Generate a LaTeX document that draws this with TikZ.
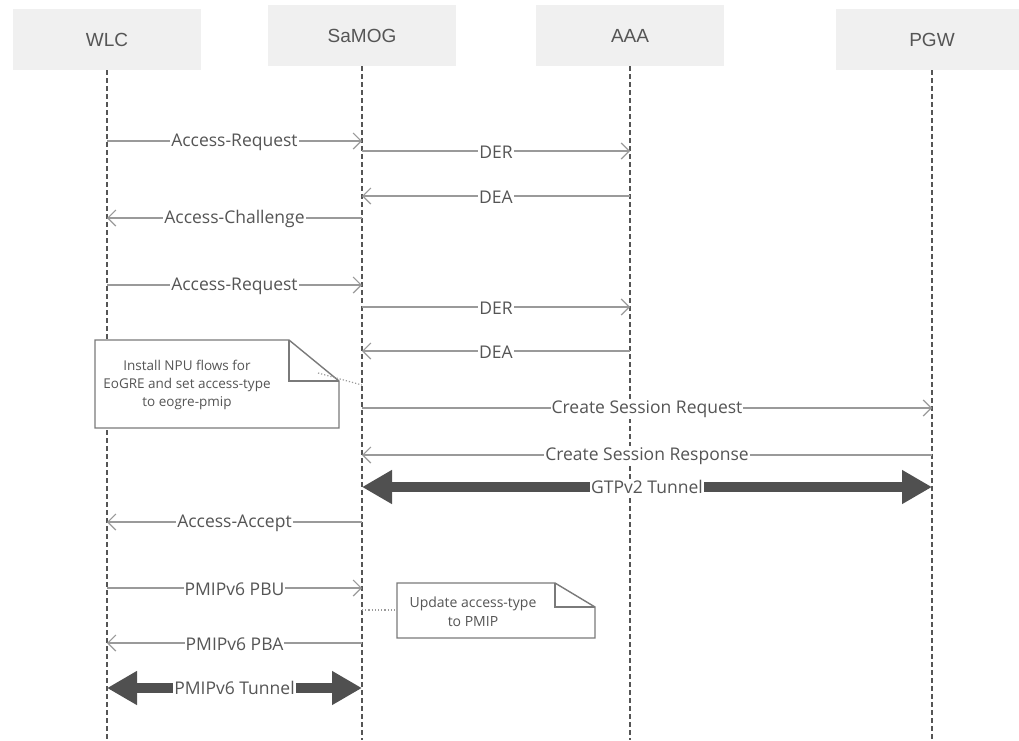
\documentclass[tikz,border=0pt]{standalone}
\usepackage{fontspec}
\setmainfont{Open Sans}
\newfontfamily\headfont{Liberation Sans}
\usetikzlibrary{arrows.meta}
\definecolor{hdrfill}{HTML}{F0F0F0}
\definecolor{txtgray}{HTML}{555555}
\definecolor{linegray}{HTML}{9A9A9A}
\definecolor{lifegray}{HTML}{555555}
\definecolor{tunnelgray}{HTML}{505050}
\definecolor{notegray}{HTML}{7A7A7A}
\tikzset{
  hdr/.style={fill=hdrfill, draw=none, inner sep=0pt, text=txtgray,
    font=\headfont\fontsize{19}{22}\selectfont},
  lifeline/.style={draw=lifegray, line width=1.8pt, dash pattern=on 5pt off 3pt},
  msg/.style={draw=linegray, line width=1.4pt,
    -{Straight Barb[length=8pt,width=16pt,line width=1.2pt]}},
  msglbl/.style={fill=white, inner sep=1pt, text=txtgray, yshift=-1pt,
    font=\fontsize{17.5}{20}\selectfont},
  tunnel/.style={draw=tunnelgray, line width=10pt,
    {Triangle[length=30pt,width=32pt]}-{Triangle[length=30pt,width=32pt]}},
  tunlbl/.style={fill=white, inner sep=1pt, text=txtgray,
    font=\fontsize{17.5}{20}\selectfont},
  notebox/.style={draw=notegray, line width=1.4pt, fill=white},
  notetxt/.style={text=txtgray, align=center, inner sep=0pt},
  noteline/.style={draw=linegray, line width=1.2pt, dotted},
}
\begin{document}
\begin{tikzpicture}[x=1pt,y=-1pt]
\useasboundingbox (0,0) rectangle (1019,740);
% headers
\node[hdr, minimum width=188pt, minimum height=61pt] (wlc) at (107,39.5) {WLC};
\node[hdr, minimum width=188pt, minimum height=61pt] (samog) at (362,35.5) {SaMOG};
\node[hdr, minimum width=188pt, minimum height=61pt] (aaa) at (630,35.5) {AAA};
\node[hdr, minimum width=192pt, minimum height=61pt] (pgw) at (932,39.5) {PGW};
% lifelines
\coordinate (wlcend) at (107,740);
\coordinate (samogend) at (362,740);
\coordinate (aaaend) at (630,740);
\coordinate (pgwend) at (932,740);
\draw[lifeline] (wlc.south) -- (wlcend);
\draw[lifeline] (samog.south) -- (samogend);
\draw[lifeline] (aaa.south) -- (aaaend);
\draw[lifeline] (pgw.south) -- (pgwend);
% messages
\draw[msg] (wlc |- 0,141) -- node[msglbl]{Access-Request} (samog |- 0,141);
\draw[msg] (samog |- 0,151) -- node[msglbl]{DER} (aaa |- 0,151);
\draw[msg] (aaa |- 0,196) -- node[msglbl]{DEA} (samog |- 0,196);
\draw[msg] (samog |- 0,218) -- node[msglbl]{Access-Challenge} (wlc |- 0,218);
\draw[msg] (wlc |- 0,285) -- node[msglbl]{Access-Request} (samog |- 0,285);
\draw[msg] (samog |- 0,307) -- node[msglbl]{DER} (aaa |- 0,307);
\draw[msg] (aaa |- 0,351) -- node[msglbl]{DEA} (samog |- 0,351);
\draw[msg] (samog |- 0,408) -- node[msglbl]{Create Session Request} (pgw |- 0,408);
\draw[msg] (pgw |- 0,455) -- node[msglbl]{Create Session Response} (samog |- 0,455);
\draw[tunnel] (samog |- 0,487) -- node[tunlbl]{GTPv2 Tunnel} (pgw |- 0,487);
\draw[msg] (samog |- 0,522) -- node[msglbl]{Access-Accept} (wlc |- 0,522);
\draw[msg] (wlc |- 0,588) -- node[msglbl]{PMIPv6 PBU} (samog |- 0,588);
\draw[msg] (samog |- 0,643) -- node[msglbl]{PMIPv6 PBA} (wlc |- 0,643);
\draw[tunnel] (wlc |- 0,688) -- node[tunlbl]{PMIPv6 Tunnel} (samog |- 0,688);
% note 1
\coordinate (n1dot) at (318,373);
\draw[notebox] (95,340) -- (289,340) -- (339,381) -- (339,428) -- (95,428) -- cycle;
\draw[notebox, fill=none] (289,340) -- (289,381) -- (339,381);
\node[notetxt, font=\fontsize{13.5}{18}\selectfont] (note1) at (187,385)
  {Install NPU flows for\\EoGRE and set access-type\\to eogre-pmip};
\draw[noteline] (n1dot) -- (samog |- 0,385);
% note 2
\draw[notebox] (397,583) -- (555,583) -- (595,607) -- (595,638) -- (397,638) -- cycle;
\draw[notebox, fill=none] (555,583) -- (555,607) -- (595,607);
\node[notetxt, font=\fontsize{14}{19}\selectfont] (note2) at (473,612)
  {Update access-type\\to PMIP};
\coordinate (n2left) at (397,610);
\draw[noteline] (samog |- 0,610) -- (n2left);
\end{tikzpicture}
\end{document}
